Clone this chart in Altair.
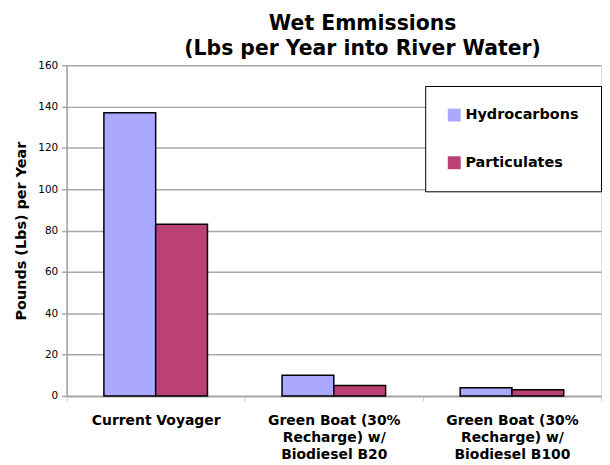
import altair as alt
import pandas as pd

categories = [
    "Current Voyager",
    "Green Boat (30%\nRecharge) w/\nBiodiesel B20",
    "Green Boat (30%\nRecharge) w/\nBiodiesel B100",
]
series = ["Hydrocarbons", "Particulates"]
hydrocarbons = [137, 10, 4]
particulates = [83, 5, 3]
colors = ["#aaa8ff", "#bb4073"]
y_ticks = [0, 20, 40, 60, 80, 100, 120, 140, 160]

rows = []
for c, h, p in zip(categories, hydrocarbons, particulates):
    rows.append({"category": c, "series": series[0], "value": h})
    rows.append({"category": c, "series": series[1], "value": p})
df = pd.DataFrame(rows)

FONT = "DejaVu Sans"

chart = (
    alt.Chart(df)
    .mark_bar(stroke="black", strokeWidth=1.5)
    .encode(
        x=alt.X(
            "category:N",
            sort=categories,
            scale=alt.Scale(paddingInner=0, paddingOuter=0),
            axis=alt.Axis(
                title=None,
                labelAngle=0,
                labelExpr="split(datum.label, '\\n')",
                labelFont=FONT,
                labelFontWeight="bold",
                labelFontSize=14,
                labelColor="black",
                labelLineHeight=17,
                labelPadding=13,
                labelBaseline="top",
                tickBand="extent",
                tickSize=5,
                tickColor="#c8c8c8",
                domainColor="#a0a0a0",
                domainWidth=1.5,
                labelLimit=220,
            ),
        ),
        xOffset=alt.XOffset(
            "series:N",
            sort=series,
            scale=alt.Scale(paddingOuter=0.72, paddingInner=0),
        ),
        y=alt.Y(
            "value:Q",
            scale=alt.Scale(domain=[0, 160], nice=False),
            axis=alt.Axis(
                title="Pounds (Lbs) per Year",
                titleFont=FONT,
                titleFontWeight="bold",
                titleFontSize=14.5,
                titleColor="black",
                titlePadding=9,
                values=y_ticks,
                labelFont=FONT,
                labelFontSize=10.5,
                labelColor="black",
                labelPadding=4,
                tickSize=5,
                tickColor="#a8a8a8",
                tickWidth=1.5,
                gridColor="#a8a8a8",
                gridWidth=1.5,
                domainColor="#a0a0a0",
                domainWidth=1.5,
            ),
        ),
        color=alt.Color(
            "series:N",
            sort=series,
            scale=alt.Scale(domain=series, range=colors),
            legend=alt.Legend(
                title=None,
                orient="none",
                legendX=361,
                legendY=21,
                fillColor="white",
                strokeColor="black",
                padding=22,
                rowPadding=33,
                symbolType="square",
                symbolSize=169,
                symbolStrokeWidth=0,
                labelFont=FONT,
                labelFontWeight="bold",
                labelFontSize=14.5,
                labelColor="black",
                labelOffset=4,
            ),
        ),
    )
    .properties(
        width=538,
        height=333,
        padding={"left": 5, "top": 4, "right": 0, "bottom": 3},
        title=alt.TitleParams(
            text=["Wet Emmissions", "(Lbs per Year into River Water)"],
            font=FONT,
            fontSize=20.5,
            fontWeight="bold",
            color="black",
            lineHeight=25,
            anchor="middle",
            frame="group",
            dx=29,
            offset=1,
        ),
    )
    .configure_view(fill="#d6d6d6", stroke=None)
    .configure_legend(strokeWidth=2)
    .configure(background="white")
)

chart.save("out.html", embed_options={"renderer": "svg", "actions": False})
